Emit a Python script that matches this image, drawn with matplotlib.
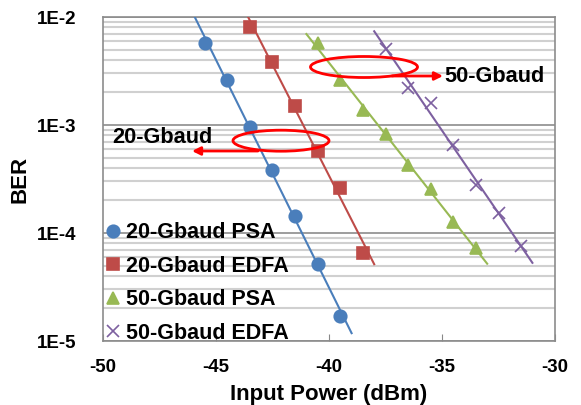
import numpy as np
import matplotlib.pyplot as plt
from matplotlib.patches import Ellipse

plt.rcParams['font.family'] = ['Liberation Sans', 'DejaVu Sans']
plt.rcParams['font.weight'] = 'bold'

# 20-Gbaud PSA
x_20psa = [-45.5, -44.5, -43.5, -42.5, -41.5, -40.5, -39.5]
ber_20psa = [5.75e-3, 2.6e-3, 9.6e-4, 3.8e-4, 1.44e-4, 5.2e-5, 1.7e-5]
# 20-Gbaud EDFA
x_20edfa = [-43.5, -42.5, -41.5, -40.5, -39.5, -38.5]
ber_20edfa = [8.0e-3, 3.8e-3, 1.5e-3, 5.8e-4, 2.6e-4, 6.5e-5]
# 50-Gbaud PSA
x_50psa = [-40.5, -39.5, -38.5, -37.5, -36.5, -35.5, -34.5, -33.5]
ber_50psa = [5.7e-3, 2.6e-3, 1.38e-3, 8.3e-4, 4.3e-4, 2.55e-4, 1.27e-4, 7.2e-5]
# 50-Gbaud EDFA
x_50edfa = [-37.5, -36.5, -35.5, -34.5, -33.5, -32.5, -31.5]
ber_50edfa = [5.1e-3, 2.2e-3, 1.6e-3, 6.5e-4, 2.8e-4, 1.52e-4, 7.5e-5]

series = [
    ("20-Gbaud PSA", x_20psa, ber_20psa, '#4a7ebb', 'o', 9),
    ("20-Gbaud EDFA", x_20edfa, ber_20edfa, '#be4b48', 's', 8),
    ("50-Gbaud PSA", x_50psa, ber_50psa, '#98b954', '^', 9),
    ("50-Gbaud EDFA", x_50edfa, ber_50edfa, '#7d60a0', 'x', 9),
]

fig = plt.figure(figsize=(5.81, 4.05), dpi=100)
ax = fig.add_axes([103 / 581, 1 - 341 / 405, (555 - 103) / 581, (341 - 17) / 405])

for label, xs, ys, c, m, ms in series:
    xs = np.array(xs)
    k, b = np.polyfit(xs, np.log10(ys), 1)
    xf = np.array([xs[0] - 0.5, xs[-1] + 0.5])
    ax.plot(xf, 10 ** (k * xf + b), color=c, lw=1.5, zorder=3)
    ax.plot(xs, ys, ls='none', marker=m, color=c, ms=ms, mew=1.2,
            label=label, zorder=4)

ax.set_yscale('log')
ax.set_xlim(-50, -30)
ax.set_ylim(1e-5, 1e-2)
ax.set_xticks([-50, -45, -40, -35, -30])
ax.set_xticklabels(['-50', '-45', '-40', '-35', '-30'])
ax.set_yticks([1e-5, 1e-4, 1e-3, 1e-2])
ax.set_yticklabels(['1E-5', '1E-4', '1E-3', '1E-2'])
ax.tick_params(axis='y', which='both', length=0, pad=19, labelsize=13.5)
ax.tick_params(axis='x', which='major', direction='in', length=5, color='#888888',
               pad=13, labelsize=13.5)
ax.grid(True, which='major', axis='y', color='#8c8c8c', lw=1.2, zorder=0)
ax.grid(True, which='minor', axis='y', color='#d0d0d0', lw=1.5, zorder=0)
for s in ax.spines.values():
    s.set_color('#8c8c8c')
    s.set_linewidth(1.2)

ax.set_xlabel('Input Power (dBm)', fontsize=16, fontweight='bold', labelpad=6)
ax.set_ylabel('BER', fontsize=16, fontweight='bold', labelpad=5)

# annotations
e1 = Ellipse((281, 405 - 140.7), 96, 21, transform=None, fill=False,
             edgecolor='red', lw=2, zorder=5)
e2 = Ellipse((364, 405 - 67), 107, 21, transform=None, fill=False,
             edgecolor='red', lw=2, zorder=5)
fig.add_artist(e1)
fig.add_artist(e2)
fig.add_artist(plt.Annotation('', xy=(192 / 581, 1 - 151 / 405),
                              xytext=(258 / 581, 1 - 151 / 405),
                              xycoords='figure fraction',
                              arrowprops=dict(arrowstyle='-|>', color='red', lw=2,
                                              mutation_scale=12, shrinkA=0, shrinkB=0)))
fig.add_artist(plt.Annotation('', xy=(443 / 581, 1 - 76 / 405),
                              xytext=(392 / 581, 1 - 76 / 405),
                              xycoords='figure fraction',
                              arrowprops=dict(arrowstyle='-|>', color='red', lw=2,
                                              mutation_scale=12, shrinkA=0, shrinkB=0)))
fig.text(112 / 581, 1 - 137 / 405, '20-Gbaud', fontsize=15.7, fontweight='bold',
         va='center', ha='left')
fig.text(444 / 581, 1 - 76 / 405, '50-Gbaud', fontsize=15.7, fontweight='bold',
         va='center', ha='left')

ax.legend(loc='lower left', frameon=False, fontsize=15.5, handlelength=0.6,
          handletextpad=0.3, borderaxespad=0.0, borderpad=0.0, labelspacing=0.58,
          bbox_to_anchor=(0.007, -0.008))

fig.savefig('out.png', dpi=100)
